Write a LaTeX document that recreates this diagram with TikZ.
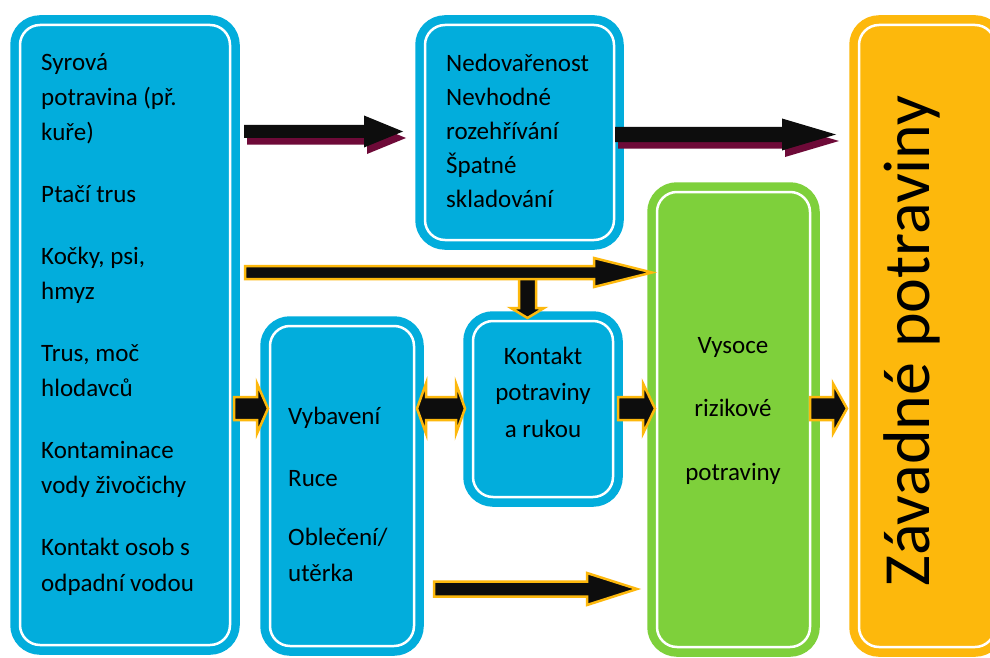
\documentclass[tikz,border=0pt]{standalone}
\usepackage{fontspec}
\setmainfont{Carlito}
\definecolor{boxcyan}{RGB}{2,173,220}
\definecolor{boxgreen}{RGB}{126,208,59}
\definecolor{boxorange}{RGB}{253,184,12}
\definecolor{arrowblack}{RGB}{13,13,13}
\definecolor{shadowred}{RGB}{110,10,56}
% block arrow: [style] x start, x head, x tip, y, shaft half height, head half height
\newcommand\barrow[7][]{\filldraw[#1] (#2,#5-#6) -- (#3,#5-#6) -- (#3,#5-#7) -- (#4,#5) -- (#3,#5+#7) -- (#3,#5+#6) -- (#2,#5+#6) -- cycle;}
\tikzset{
  box/.style={draw=#1,fill=#1,double=white,double distance=2.5pt,line width=8.5pt,rounded corners=20pt,inner sep=0pt},
  txt/.style={font=\fontsize{25}{35.3}\selectfont,inner sep=0pt},
  oarrow/.style={fill=arrowblack,draw=boxorange,line width=2.5pt,line join=miter},
  sarrow/.style={fill=shadowred,draw=none},
  karrow/.style={fill=arrowblack,draw=none}
}
\begin{document}
\begin{tikzpicture}[x=1pt,y=-1pt]
\useasboundingbox (0,0) rectangle (990,658);
\clip (0,0) rectangle (990,658);
\fill[white] (0,0) rectangle (990,658);
% boxes
\node[box=boxcyan,minimum width=210,minimum height=620] (src) at (125,335) {};
\node[box=boxcyan,minimum width=189,minimum height=215] (ned) at (519.5,132.5) {};
\node[box=boxcyan,minimum width=140,minimum height=176] (kon) at (543,409) {};
\node[box=boxcyan,minimum width=144,minimum height=320] (vyb) at (342,486) {};
\node[box=boxgreen,minimum width=153,minimum height=455] (ris) at (733.5,419.5) {};
\node[box=boxorange,minimum width=136,minimum height=622] (zav) at (927,336) {};
% texts (anchored at the baseline of the last line)
\node[txt,align=left,anchor=base west] (srcT) at (41,591)
  {Syrová\\potravina (př.\\kuře)\\[26.5pt]Ptačí trus\\[26.5pt]Kočky, psi,\\hmyz\\[26.5pt]Trus, moč\\hlodavců\\[26.5pt]Kontaminace\\vody živočichy\\[26.5pt]Kontakt osob s\\odpadní vodou};
\node[txt,font=\fontsize{25}{34}\selectfont,align=left,anchor=base west] (nedT) at (446,207)
  {Nedovařenost\\Nevhodné\\rozehřívání\\Špatné\\skladování};
\node[txt,font=\fontsize{25}{36.5}\selectfont,align=center,anchor=base] (konT) at (543,437)
  {Kontakt\\potraviny\\a rukou};
\node[txt,font=\fontsize{25}{36}\selectfont,align=left,anchor=base west] (vybT) at (288,581)
  {Vybavení\\[26pt]Ruce\\[23pt]Oblečení/\\utěrka};
\node[txt,font=\fontsize{25}{63.5}\selectfont,align=center,anchor=base] (risT) at (733,480)
  {Vysoce\\rizikové\\potraviny};
\node[font=\fontsize{66}{66}\selectfont,inner sep=0pt,rotate=90,anchor=base] (zavT) at (929,341) {Závadné potraviny};
% arrows with shadow
\barrow[sarrow]{247}{367}{406}{138}{6.5}{16}
\barrow[karrow]{244}{364}{403}{131.5}{6.5}{16}
\barrow[sarrow]{618}{785}{839}{141}{7.5}{16}
\barrow[karrow]{615}{782}{836}{134.5}{7.5}{16}
% outlined arrows
\filldraw[oarrow] (519,275) -- (536,275) -- (536,308) -- (544,308) -- (527.5,318) -- (511,308) -- (519,308) -- cycle;
\barrow[oarrow]{245}{594}{652}{272.5}{6.5}{14.5}
\barrow[oarrow]{434}{587}{637}{589}{7.5}{16}
\barrow[oarrow]{234}{257}{268}{408.5}{11.5}{25}
\barrow[oarrow]{618}{643}{655}{408.5}{11.5}{25}
\barrow[oarrow]{810}{833}{847}{408.5}{11.5}{25}
\filldraw[oarrow] (417,408.5) -- (426,383.5) -- (426,397) -- (456,397) -- (456,383.5) -- (465,408.5)
  -- (456,433.5) -- (456,420) -- (426,420) -- (426,433.5) -- cycle;
\end{tikzpicture}
\end{document}
